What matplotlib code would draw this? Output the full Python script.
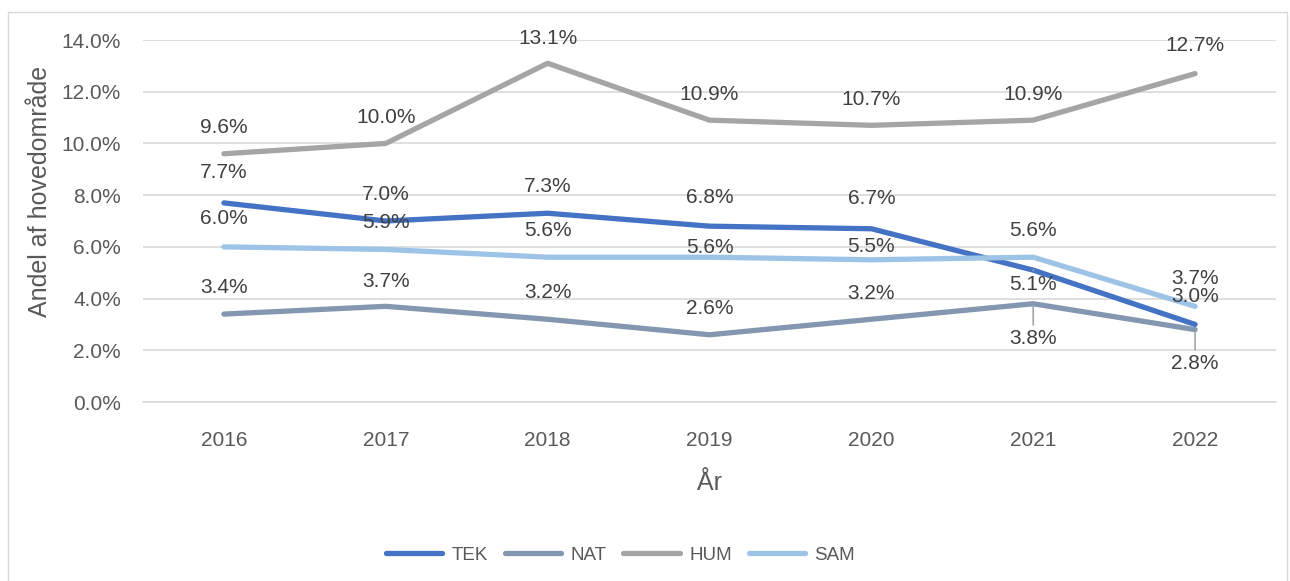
import matplotlib
matplotlib.use('Agg')
import matplotlib.pyplot as plt
from matplotlib.patches import Rectangle
from matplotlib.ticker import FuncFormatter

# data
years = ['2016', '2017', '2018', '2019', '2020', '2021', '2022']
tek = [7.7, 7.0, 7.3, 6.8, 6.7, 5.1, 3.0]
nat = [3.4, 3.7, 3.2, 2.6, 3.2, 3.8, 2.8]
hum = [9.6, 10.0, 13.1, 10.9, 10.7, 10.9, 12.7]
sam = [6.0, 5.9, 5.6, 5.6, 5.5, 5.6, 3.7]

# label offsets (pixels, positive = down); labels below the point get a leader line
tek_dy = [-30, -26, -27, -29, -30, 14, -28]
nat_dy = [-27, -25, -27, -26, -26, 35, 34]
hum_dy = [-26, -26, -25, -26, -26, -26, -28]
sam_dy = [-28, -27, -27, -10, -13, -27, -28]

plt.rcParams['font.family'] = ['Liberation Sans', 'DejaVu Sans']
txt = '#595959'

fig = plt.figure(figsize=(12.9, 5.81), dpi=100)
fig.patches.append(Rectangle((8 / 1290, -0.05), 1279 / 1290, 1.05 - 12 / 581,
                             transform=fig.transFigure, fill=False,
                             edgecolor='#d9d9d9', linewidth=1))
ax = fig.add_axes([143 / 1290, 1 - 402 / 581, 1133 / 1290, 362 / 581])

series = [('TEK', tek, tek_dy, '#4472C4'),
          ('NAT', nat, nat_dy, '#8497B0'),
          ('HUM', hum, hum_dy, '#A5A5A5'),
          ('SAM', sam, sam_dy, '#9DC3E6')]

x = list(range(len(years)))
for name, vals, dys, col in series:
    ax.plot(x, vals, color=col, linewidth=3.8, label=name, solid_capstyle='round', zorder=3)

for name, vals, dys, col in series:
    for i, (v, dy) in enumerate(zip(vals, dys)):
        arrow = None
        if dy > 0:
            arrow = dict(arrowstyle='-', color='#a6a6a6', linewidth=1.2, shrinkA=1, shrinkB=2)
        ax.annotate('{:.1f}%'.format(v), xy=(i, v), xytext=(0, -dy * 0.72),
                    textcoords='offset points', ha='center', va='center',
                    fontsize=15, color='#404040', arrowprops=arrow, zorder=4)

ax.set_xlim(-0.5, 6.5)
ax.set_ylim(0, 14)
ax.set_yticks([0, 2, 4, 6, 8, 10, 12, 14])
ax.yaxis.set_major_formatter(FuncFormatter(lambda v, p: '{:.1f}%'.format(v)))
ax.set_xticks(x)
ax.set_xticklabels(years)
ax.grid(axis='y', color='#d9d9d9', linewidth=1.2)
ax.set_axisbelow(True)
for s in ['top', 'right', 'left']:
    ax.spines[s].set_visible(False)
ax.spines['bottom'].set_color('#d9d9d9')
ax.spines['bottom'].set_linewidth(1.2)
ax.tick_params(length=0, labelsize=15, labelcolor=txt)
ax.tick_params(axis='y', pad=16)
ax.tick_params(axis='x', pad=21)
ax.set_ylabel('Andel af hovedområde', fontsize=18, color=txt)
ax.yaxis.set_label_coords(-0.080, 0.583)
ax.set_xlabel('År', fontsize=18, color=txt, labelpad=15)

fig.legend(loc='center', bbox_to_anchor=(0.481, 1 - 555 / 581), ncol=4, frameon=False,
           fontsize=13.5, labelcolor=txt, handlelength=3.0, columnspacing=0.9,
           handletextpad=0.5)

fig.savefig('out.png', dpi=100)
